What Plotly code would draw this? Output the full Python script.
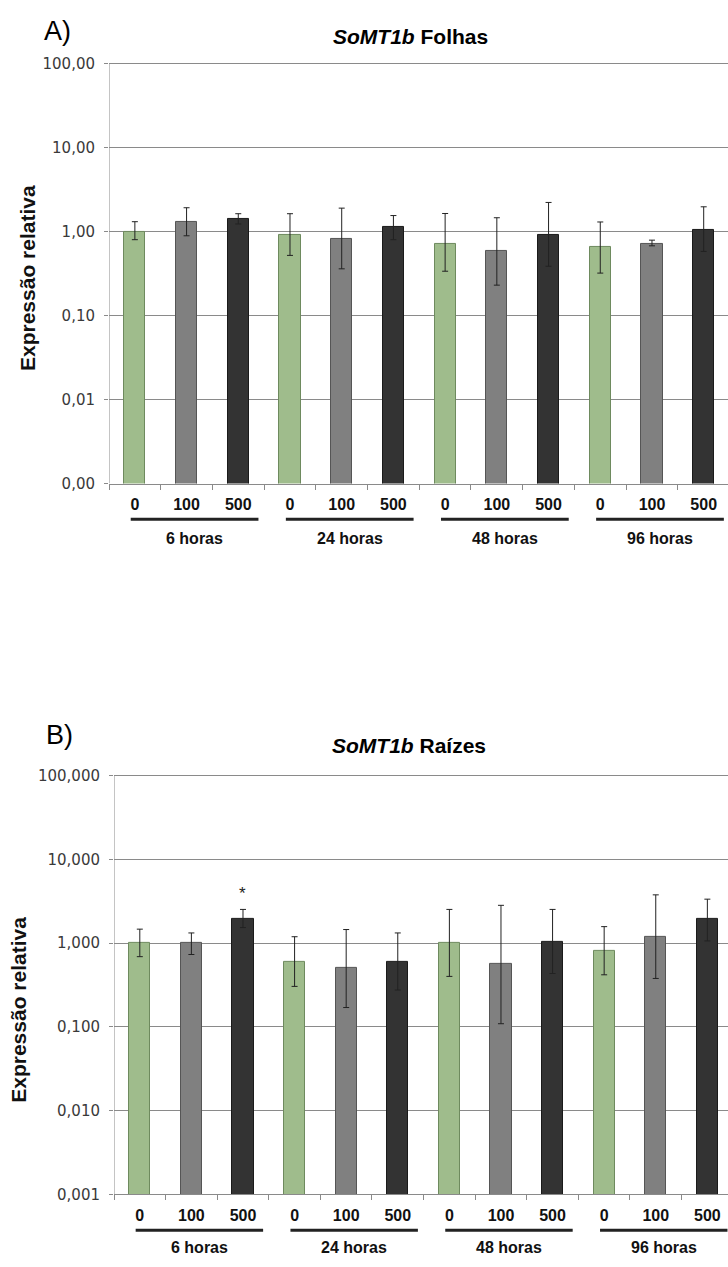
import plotly.graph_objects as go
import math

groups = ["6 horas", "24 horas", "48 horas", "96 horas"]
doses = ["0", "100", "500"]

folhas_mean = [1.00, 1.31, 1.41, 0.90, 0.81, 1.12, 0.72, 0.585, 0.905, 0.647, 0.72, 1.055]
folhas_hi = [1.31, 1.92, 1.63, 1.63, 1.90, 1.55, 1.64, 1.46, 2.22, 1.30, 0.79, 1.97]
folhas_lo = [0.80, 0.89, 1.23, 0.52, 0.36, 0.80, 0.337, 0.23, 0.386, 0.32, 0.676, 0.58]

raizes_mean = [1.00, 1.00, 1.94, 0.60, 0.50, 0.60, 1.00, 0.558, 1.04, 0.81, 1.20, 1.92]
raizes_hi = [1.465, 1.32, 2.52, 1.19, 1.45, 1.32, 2.52, 2.82, 2.52, 1.57, 3.76, 3.34]
raizes_lo = [0.688, 0.73, 1.53, 0.304, 0.17, 0.275, 0.40, 0.109, 0.433, 0.418, 0.378, 1.06]

signif_raizes = [False, False, True, False, False, False, False, False, False, False, False, False]

ytick_vals = [0.001, 0.01, 0.1, 1, 10, 100]
ytick_text_a = ["0,00", "0,01", "0,10", "1,00", "10,00", "100,00"]
ytick_text_b = ["0,001", "0,010", "0,100", "1,000", "10,000", "100,000"]

dose_fill = ["#9fbc8c", "#808080", "#333333"]
dose_line = ["#6e8a5e", "#555555", "#1a1a1a"]

W, H = 728, 1267
n = len(groups) * len(doses)
xs = list(range(n))
fills = [dose_fill[i % 3] for i in xs]
lines = [dose_line[i % 3] for i in xs]
labels = ["<b>%s</b>" % doses[i % 3] for i in xs]

ARIAL = "Liberation Sans, Arial, sans-serif"
TICKF = "DejaVu Sans, Verdana, sans-serif"


def py(p):
    return 1 - p / H


fig = go.Figure()


def add_panel(mean, hi, lo, xa, ya):
    fig.add_trace(go.Bar(
        x=xs, y=mean, width=0.41,
        marker=dict(color=fills, line=dict(color=lines, width=1)),
        error_y=dict(type="data", symmetric=False,
                     array=[h - m for h, m in zip(hi, mean)],
                     arrayminus=[m - l for m, l in zip(mean, lo)],
                     color="#222222", thickness=1, width=3),
        xaxis=xa, yaxis=ya, showlegend=False, hoverinfo="skip",
    ))


add_panel(folhas_mean, folhas_hi, folhas_lo, "x", "y")
add_panel(raizes_mean, raizes_hi, raizes_lo, "x2", "y2")

grid_col = "#8a8a8a"


def xaxis_def(left_px, right_val, anchor):
    return dict(
        domain=[left_px / W, 1], range=[-0.5, right_val], anchor=anchor,
        tickmode="array", tickvals=xs, ticktext=labels, ticks="",
        tickfont=dict(family=ARIAL, size=16, color="#111111"),
        showline=True, linecolor=grid_col, linewidth=1,
        showgrid=False, zeroline=False, ticklabelstandoff=6,
        minor=dict(tickmode="array", tickvals=[i - 0.5 for i in range(n + 1)],
                   ticks="outside", ticklen=5, tickcolor=grid_col, tickwidth=1,
                   showgrid=False),
    )


def yaxis_def(top_px, bot_px, ticktext, anchor):
    decade = (bot_px - top_px) / 5.0
    extra = 0.15
    return dict(
        domain=[py(bot_px), py(top_px - extra * decade)], type="log",
        range=[-3, 2 + extra],
        anchor=anchor, tickmode="array", tickvals=ytick_vals, ticktext=ticktext,
        ticks="outside", ticklen=4, tickcolor=grid_col,
        tickfont=dict(family=TICKF, size=15, color="#3a3a3a"),
        showgrid=True, gridcolor=grid_col, gridwidth=1,
        showline=False, zeroline=False,
        ticklabelstandoff=6,
    )


fig.update_layout(
    width=W, height=H, margin=dict(l=0, r=0, t=0, b=0),
    plot_bgcolor="white", paper_bgcolor="white", bargap=0,
    xaxis=xaxis_def(109, 11.47, "y"),
    yaxis=yaxis_def(64, 487, ytick_text_a, "x"),
    xaxis2=xaxis_def(114, 11.40, "y2"),
    yaxis2=yaxis_def(781, 1203, ytick_text_b, "x2"),
)

ann = []
shapes = []


def panel_text(letter, title, lx, ly, tx, ty, ytx, yty, xref, yref, ul_y, gl_y):
    ann.append(dict(text=letter, x=lx / W, y=py(ly), xref="paper", yref="paper",
                    showarrow=False, xanchor="center", yanchor="middle",
                    font=dict(family=ARIAL, size=27, color="#000")))
    ann.append(dict(text=title, x=tx / W, y=py(ty), xref="paper", yref="paper",
                    showarrow=False, xanchor="center", yanchor="middle",
                    font=dict(family=ARIAL, size=21, color="#000")))
    ann.append(dict(text="<b>Expressão relativa</b>", x=ytx / W, y=py(yty),
                    xref="paper", yref="paper", textangle=-90, showarrow=False,
                    xanchor="center", yanchor="middle",
                    font=dict(family=ARIAL, size=21, color="#111")))
    # vertical y-axis line from the bottom of the scale to the top tick (100)
    shapes.append(dict(type="line", xref=xref, yref=yref, x0=-0.5, x1=-0.5,
                       y0=ytick_vals[0], y1=ytick_vals[-1],
                       line=dict(color=grid_col, width=1)))
    for gi, g in enumerate(groups):
        g0 = gi * len(doses)
        shapes.append(dict(type="line", xref=xref, yref="paper",
                           x0=g0 - 0.08, x1=g0 + 2.39, y0=py(ul_y), y1=py(ul_y),
                           line=dict(color="#222222", width=3)))
        ann.append(dict(text="<b>%s</b>" % g, x=g0 + 1.16, y=py(gl_y), xref=xref,
                        yref="paper", showarrow=False, xanchor="center",
                        yanchor="middle",
                        font=dict(family=ARIAL, size=16, color="#111")))


panel_text("A)", "<b><i>SoMT1b</i> Folhas</b>", 57, 31, 410, 37, 27, 280, "x", "y", 523, 542)
panel_text("B)", "<b><i>SoMT1b</i> Raízes</b>", 59, 740, 409, 751, 19, 1017, "x2", "y2", 1239, 1256)

for i, s in enumerate(signif_raizes):
    if s:
        ann.append(dict(text="*", x=xs[i], y=math.log10(raizes_hi[i]), xref="x2",
                        yref="y2", showarrow=False, yanchor="bottom", yshift=4,
                        font=dict(family=ARIAL, size=17, color="#222")))

fig.update_layout(annotations=ann, shapes=shapes)
fig.write_html("out.html", config={"displayModeBar": False},
               post_script="document.body.style.margin='0';document.body.style.overflow='hidden';")
